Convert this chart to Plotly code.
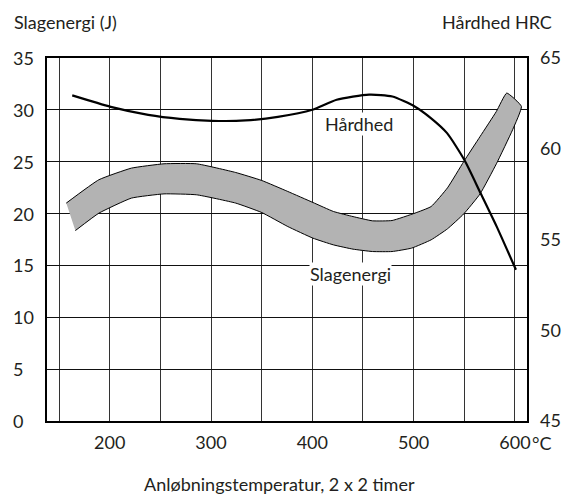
import plotly.graph_objects as go

# ---- data ----
temp_ticks = [200, 300, 400, 500, 600]
energy_ticks = [0, 5, 10, 15, 20, 25, 30, 35]
hrc_ticks = [45, 50, 55, 60, 65]

# Hardness curve (right axis, HRC)
hard_T = [163, 201, 238, 269, 301, 334, 366, 400, 424, 456, 479, 501, 517, 533, 550, 566, 582, 601]
hard_H = [62.94, 62.31, 61.87, 61.65, 61.54, 61.56, 61.76, 62.15, 62.70, 62.98, 62.88, 62.33,
          61.69, 60.86, 59.39, 57.56, 55.71, 53.33]

# Impact energy band (left axis, J): upper and lower edge
band_up_T = [157.1, 189.3, 221.4, 253.6, 285.8, 324.4, 350.1, 375.8, 400.6, 420.9, 440.2, 459.4,
             478.7, 501.2, 517.3, 533.4, 549.5, 565.6, 581.7, 591.9]
band_up_E = [21.01, 23.26, 24.38, 24.80, 24.80, 23.96, 23.19, 22.13, 21.07, 20.20, 19.71, 19.30,
             19.33, 20.04, 20.68, 22.48, 25.02, 27.43, 29.85, 31.62]
band_lo_T = [166.1, 189.3, 221.4, 253.6, 285.8, 324.4, 350.1, 375.8, 400.6, 420.9, 440.2, 459.4,
             478.7, 498.0, 517.3, 533.4, 549.5, 565.6, 581.7, 597.7, 606.4]
band_lo_E = [18.36, 20.04, 21.49, 21.90, 21.81, 21.01, 20.10, 18.75, 17.63, 16.98, 16.57, 16.34,
             16.34, 16.67, 17.47, 18.53, 19.97, 21.90, 24.80, 28.08, 30.33]

FONT = "Lato"
TXT = "#231f20"

fig = go.Figure()

fig.add_trace(go.Scatter(
    x=band_up_T + band_lo_T[::-1],
    y=band_up_E + band_lo_E[::-1],
    fill="toself", fillcolor="#b3b3b3",
    mode="lines", line=dict(color="black", width=1, shape="spline", smoothing=0.4),
    hoverinfo="skip", showlegend=False, yaxis="y"))

fig.add_trace(go.Scatter(
    x=hard_T, y=hard_H, mode="lines",
    line=dict(color="black", width=2.2, shape="spline", smoothing=0.6),
    showlegend=False, yaxis="y2"))

fig.update_layout(
    width=573, height=494,
    margin=dict(l=47, r=35, t=58, b=73),
    paper_bgcolor="white", plot_bgcolor="white",
    font=dict(family=FONT, size=18, color=TXT),
    xaxis=dict(range=[138.1, 611.9], tickvals=temp_ticks, ticktext=[str(t) for t in temp_ticks],
               showgrid=False, zeroline=False, ticks="", ticklabelstandoff=5,
               showline=True, mirror=True, linecolor="black", linewidth=1.5,
               minor=dict(tick0=150, dtick=50, showgrid=True, gridcolor="#333", gridwidth=1)),
    yaxis=dict(range=[0, 35], tickvals=energy_ticks, showticklabels=False,
               showgrid=True, gridcolor="#111", gridwidth=1, zeroline=False, ticks="",
               showline=True, mirror=True, linecolor="black", linewidth=1.5),
    yaxis2=dict(range=[45, 65], tickvals=hrc_ticks, overlaying="y", side="right",
                showgrid=False, zeroline=False, ticks="", showline=False, ticklabelstandoff=12),
)

# left-aligned left axis labels
for v in energy_ticks:
    fig.add_annotation(x=-0.0754, y=v, xref="paper", yref="y", text=str(v),
                       showarrow=False, xanchor="left", yanchor="middle")

fig.add_annotation(x=600, y=-0.0607, xref="x", yref="paper", text="°C", xshift=15,
                   showarrow=False, xanchor="left", yanchor="middle")

fig.add_annotation(x=-0.072, y=1.10, xref="paper", yref="paper", text="Slagenergi (J)",
                   showarrow=False, xanchor="left", yanchor="middle")
fig.add_annotation(x=1.0554, y=1.10, xref="paper", yref="paper", text="Hårdhed HRC",
                   showarrow=False, xanchor="right", yanchor="middle")
fig.add_annotation(x=0.485, y=-0.1737, xref="paper", yref="paper",
                   text="Anløbningstemperatur, 2 x 2 timer",
                   showarrow=False, xanchor="center", yanchor="middle")

fig.add_annotation(x=446, y=28.66, xref="x", yref="y", text="Hårdhed", showarrow=False,
                   bgcolor="white", borderpad=0)
fig.add_annotation(x=438, y=14.2, xref="x", yref="y", text="Slagenergi", showarrow=False,
                   bgcolor="white", borderpad=0)

fig.write_html("out.html", config={"displayModeBar": False},
               post_script="document.body.style.margin='0';document.body.style.overflow='hidden';")
